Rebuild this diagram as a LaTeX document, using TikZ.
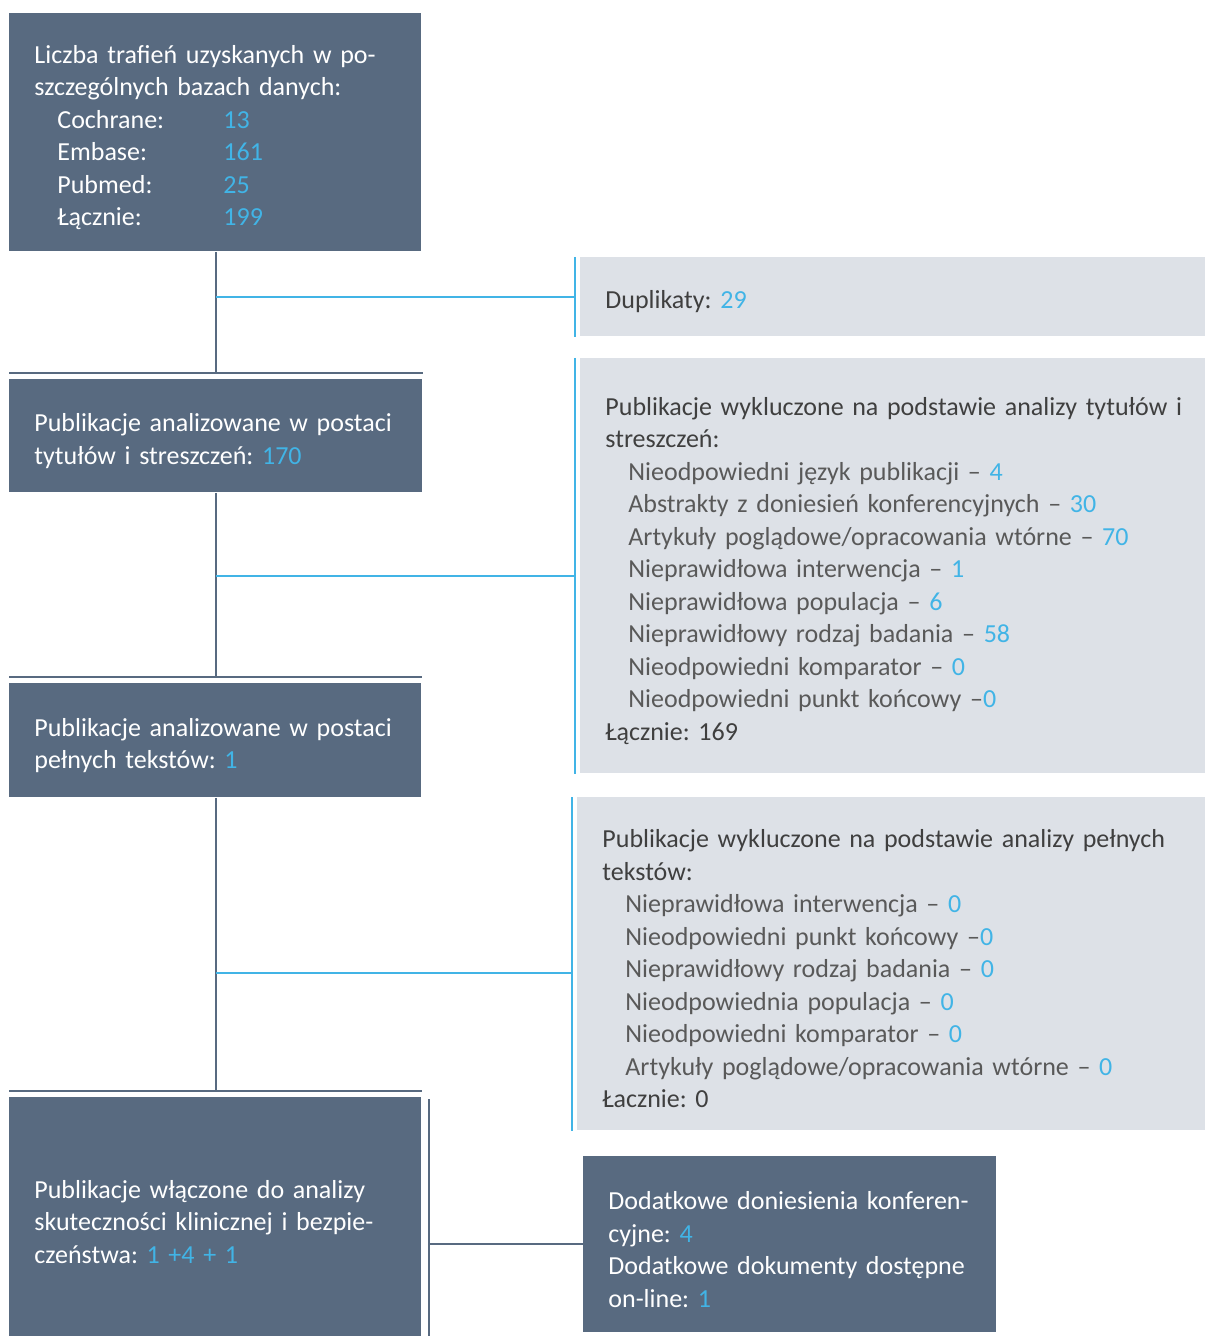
\documentclass[tikz,border=0pt]{standalone}
\usepackage{fontspec}
\setmainfont{Carlito}
\usepackage{xcolor}
\usetikzlibrary{positioning}
\definecolor{slate}{HTML}{586A80}
\definecolor{mist}{HTML}{DDE1E7}
\definecolor{hitblue}{HTML}{41B4E6}
\definecolor{headgray}{HTML}{3F3F3F}
\definecolor{itemgray}{HTML}{595959}
\newcommand{\num}[1]{\textcolor{hitblue}{#1}}
\newcommand{\entry}[1]{\hspace*{11.5pt}{\color{itemgray}#1}}
\newcommand{\dbrow}[2]{\hspace*{11.5pt}\makebox[83pt][l]{#1}\num{#2}}
\frenchspacing

\begin{document}
\begin{tikzpicture}[x=0.5pt,y=-0.5pt,
  darkbox/.style={fill=slate,text=white,anchor=north west,align=left,inner xsep=12.5pt,inner ysep=0pt,
    font=\fontsize{13}{16.25}\selectfont,execute at begin node={\rule{0pt}{14pt}}},
  greybox/.style={darkbox,fill=mist,text=headgray},
  link/.style={draw=slate,line width=1pt},
  branch/.style={draw=hitblue,line width=1pt},
  bar/.style={draw=hitblue,line width=1.3pt}]
  \useasboundingbox (0,0) rectangle (1205,1336);
  % left column
  \node[darkbox,text width=181pt,minimum height=119pt] (hits) at (9,13)
    {Liczba trafień uzyskanych w po-\\szczególnych bazach danych:\\
     \dbrow{Cochrane:}{13}\\ \dbrow{Embase:}{161}\\ \dbrow{Pubmed:}{25}\\ \dbrow{Łącznie:}{199}};
  \node[darkbox,text width=181.5pt,minimum height=56.5pt] (screen) at (9,379)
    {Publikacje analizowane w postaci\\tytułów i streszczeń: \num{170}};
  \node[darkbox,text width=181pt,minimum height=57pt] (full) at (9,683)
    {Publikacje analizowane w postaci\\pełnych tekstów: \num{1}};
  \node[darkbox,text width=181pt,minimum height=119.5pt] (incl) at (9,1097)
    {Publikacje włączone do analizy\\skuteczności klinicznej i bezpie-\\czeństwa: \num{1 +4 + 1}};
  % right column
  \node[greybox,text width=287.5pt,minimum height=39.5pt] (dup) at (580,257)
    {Duplikaty: \num{29}};
  \node[greybox,text width=287.5pt,minimum height=207.5pt] (excl1) at (580,358)
    {\mbox{Publikacje wykluczone na podstawie analizy tytułów i}\\streszczeń:\\
     \entry{Nieodpowiedni język publikacji – \num{4}}\\
     \entry{Abstrakty z doniesień konferencyjnych – \num{30}}\\
     \entry{Artykuły poglądowe/opracowania wtórne – \num{70}}\\
     \entry{Nieprawidłowa interwencja – \num{1}}\\
     \entry{Nieprawidłowa populacja – \num{6}}\\
     \entry{Nieprawidłowy rodzaj badania – \num{58}}\\
     \entry{Nieodpowiedni komparator – \num{0}}\\
     \entry{Nieodpowiedni punkt końcowy –\num{0}}\\
     Łącznie: 169};
  \node[greybox,text width=289pt,minimum height=166.5pt] (excl2) at (577,797)
    {Publikacje wykluczone na podstawie analizy pełnych\\tekstów:\\
     \entry{Nieprawidłowa interwencja – \num{0}}\\
     \entry{Nieodpowiedni punkt końcowy –\num{0}}\\
     \entry{Nieprawidłowy rodzaj badania – \num{0}}\\
     \entry{Nieodpowiednia populacja – \num{0}}\\
     \entry{Nieodpowiedni komparator – \num{0}}\\
     \entry{Artykuły poglądowe/opracowania wtórne – \num{0}}\\
     Łacznie: 0};
  \node[darkbox,text width=181.5pt,minimum height=88pt] (extra) at (583,1156)
    {Dodatkowe doniesienia konferen-\\cyjne: \num{4}\\Dodatkowe dokumenty dostępne\\on-line: \num{1}};
  % rules on top of the left boxes
  \foreach \b in {screen,full,incl}
    \draw[link] ([yshift=3pt]\b.north west) -- ([yshift=3pt]\b.north east);
  % blue bars beside the grey boxes
  \foreach \b in {dup,excl1,excl2}
    \draw[bar] ([xshift=-2.5pt]\b.north west) -- ([xshift=-2.5pt]\b.south west);
  % main flow
  \draw[link] (hits.south -| 216,0) -- ([yshift=3pt]screen.north -| 216,0);
  \draw[link] (screen.south -| 216,0) -- ([yshift=3pt]full.north -| 216,0);
  \draw[link] (full.south -| 216,0) -- ([yshift=3pt]incl.north -| 216,0);
  \draw[branch] (dup.west -| 216,0) -- ([xshift=-2.5pt]dup.west);
  \draw[branch] (216,576) -- ([xshift=-2.5pt]excl1.west |- 0,576);
  \draw[branch] (216,973) -- ([xshift=-2.5pt]excl2.west |- 0,973);
  \draw[link] ([xshift=3.5pt,yshift=-1pt]incl.north east) -- ([xshift=3.5pt]incl.south east);
  \draw[link] ([xshift=3.5pt]incl.east |- extra.west) -- (extra.west);
\end{tikzpicture}
\end{document}
